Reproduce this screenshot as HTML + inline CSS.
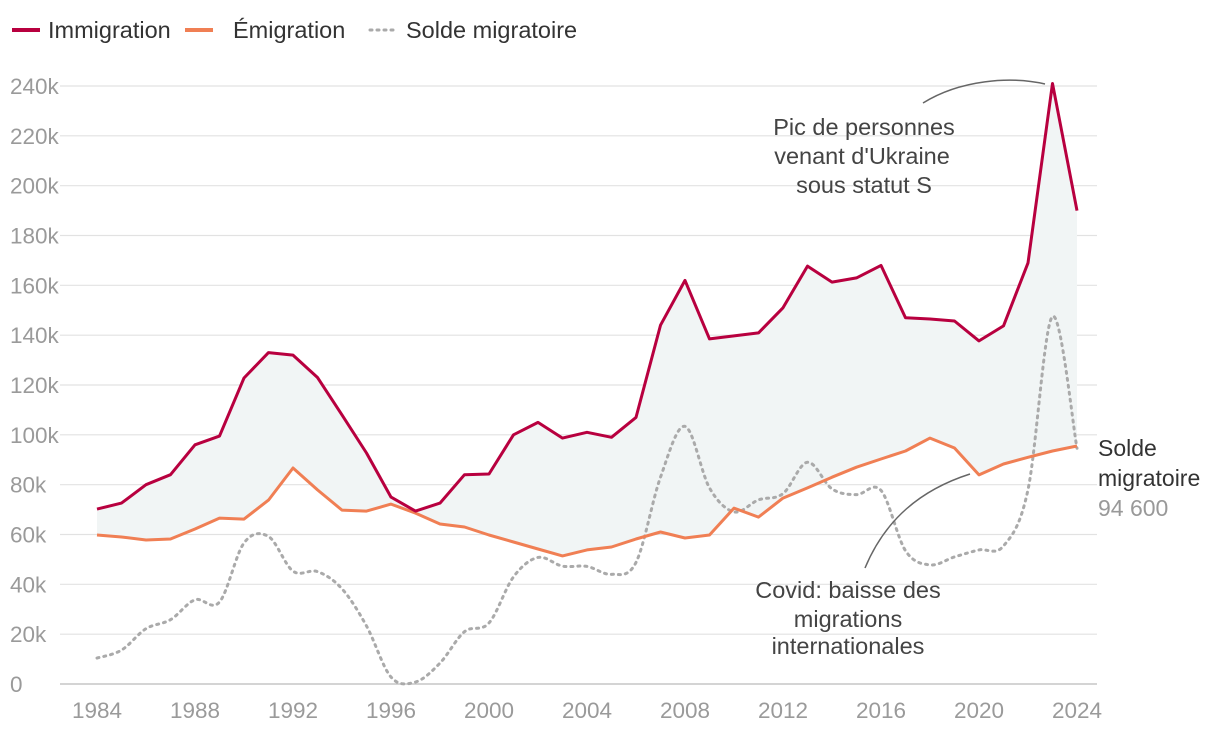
<!DOCTYPE html>
<html><head><meta charset="utf-8">
<style>
body{margin:0;background:#fff;font-family:"Liberation Sans",sans-serif;}
svg text{font-family:"Liberation Sans",sans-serif;}
</style></head>
<body>
<svg width="1220" height="736" viewBox="0 0 1220 736">
<g id="grid"></g>
<g id="yticks"></g>
<g id="xticks"></g>
<path id="area" fill="#f1f5f5"/>
<path id="solde" fill="none" stroke="#aaaaaa" stroke-width="3" stroke-dasharray="2 5" stroke-linecap="round"/>
<path id="emig" fill="none" stroke="#f07f54" stroke-width="3" stroke-linejoin="round"/>
<path id="immig" fill="none" stroke="#b8003f" stroke-width="3" stroke-linejoin="round"/>
<g font-size="23.5" fill="#333">
 <g><line x1="12" y1="30" x2="40" y2="30" stroke="#b8003f" stroke-width="4"/><text x="48" y="38">Immigration</text></g>
 <g><line x1="185" y1="30" x2="213" y2="30" stroke="#f07f54" stroke-width="4"/><text x="233" y="38">Émigration</text></g>
 <g><line x1="370" y1="30" x2="398" y2="30" stroke="#aaa" stroke-width="3" stroke-dasharray="2 5" stroke-linecap="round"/><text x="406" y="38">Solde migratoire</text></g>
</g>
<g font-size="23.5" fill="#444" text-anchor="middle">
 <path d="M923,103 C960,80 1010,76 1045,84" fill="none" stroke="#666" stroke-width="1.5"/>
 <text x="864" y="135">Pic de personnes</text><text x="862" y="164">venant d'Ukraine</text><text x="864" y="193">sous statut S</text>
</g>
<g font-size="23.5" fill="#444" text-anchor="middle">
 <path d="M865,568 C885,520 920,490 970,474" fill="none" stroke="#666" stroke-width="1.5"/>
 <text x="848" y="598">Covid: baisse des</text><text x="848" y="627">migrations</text><text x="848" y="654">internationales</text>
</g>
<g font-size="23">
 <text x="1098" y="456" fill="#333">Solde</text><text x="1098" y="486" fill="#333">migratoire</text><text x="1098" y="516" fill="#999">94 600</text>
</g>
</svg>
<script>
const years=[];for(let y=1984;y<=2024;y++)years.push(y);
const immigration=[70.2,72.6,80,84,96,99.5,122.8,133,132,123,108,92.7,75,69.4,72.6,84,84.3,100,105,98.7,101,99,107,144,162,138.5,139.7,140.9,151,167.7,161.3,163,168,147,146.5,145.7,137.7,143.7,169,241,190];
const emigration=[59.8,59,57.8,58.2,62.2,66.6,66.2,73.8,86.7,77.9,69.8,69.4,72.2,68.6,64.2,63,59.8,57,54.2,51.4,53.8,55,58.2,61,58.6,59.8,70.6,67,74.6,78.7,83,87,90.3,93.5,98.7,94.7,83.9,88.3,91,93.5,95.5];
const solde=[10.4,13.6,22.2,25.8,33.8,32.9,56.6,59.2,45.3,45.1,38.2,23.3,2.8,0.8,8.4,21,24.5,43,50.8,47.3,47.2,44,48.8,83,103.4,78.7,69.1,73.9,76.4,89,78.3,76,77.7,53.5,47.8,51,53.8,55.4,78,147.5,94.6];
const yTicks=[0,20,40,60,80,100,120,140,160,180,200,220,240];
const xTicks=[1984,1988,1992,1996,2000,2004,2008,2012,2016,2020,2024];
const X=y=>97+(y-1984)*24.5, Y=v=>684-v*598/240;
const NS="http://www.w3.org/2000/svg";
const grid=document.getElementById('grid'),yt=document.getElementById('yticks'),xt=document.getElementById('xticks');
yTicks.forEach(v=>{
 const l=document.createElementNS(NS,'line');
 
 
 l.setAttribute('x1',60);l.setAttribute('x2',1097);l.setAttribute('y1',Y(v));l.setAttribute('y2',Y(v));
 l.setAttribute('stroke',v===0?'#bbb':'#e2e2e2');l.setAttribute('stroke-width',1.2);grid.appendChild(l);
 const t=document.createElementNS(NS,'text');
 
 
 t.setAttribute('x',10);t.setAttribute('y',Y(v)+8);t.setAttribute('font-size',22.5);t.setAttribute('fill','#9a9a9a');
 t.textContent=v===0?'0':v+'k';yt.appendChild(t);
});
xTicks.forEach(y=>{
 const t=document.createElementNS(NS,'text');
 
 
 t.setAttribute('x',X(y));t.setAttribute('y',718);t.setAttribute('font-size',22.5);t.setAttribute('fill','#9a9a9a');t.setAttribute('text-anchor','middle');
 t.textContent=y;xt.appendChild(t);
});
const pts=a=>a.map((v,i)=>[X(years[i]),Y(v)]);
const lin=p=>p.map((q,i)=>(i?'L':'M')+q[0].toFixed(1)+','+q[1].toFixed(1)).join('');
function smooth(p){let d='M'+p[0][0]+','+p[0][1];
 for(let i=0;i<p.length-1;i++){const p0=p[i-1]||p[i],p1=p[i],p2=p[i+1],p3=p[i+2]||p2;
  d+='C'+(p1[0]+(p2[0]-p0[0])/6)+','+(p1[1]+(p2[1]-p0[1])/6)+' '+(p2[0]-(p3[0]-p1[0])/6)+','+(p2[1]-(p3[1]-p1[1])/6)+' '+p2[0]+','+p2[1];}
 return d;}
const pi=pts(immigration),pe=pts(emigration);
document.getElementById('immig').setAttribute('d',lin(pi));
document.getElementById('emig').setAttribute('d',lin(pe));
document.getElementById('area').setAttribute('d',lin(pi)+lin(pe.slice().reverse()).replace('M','L')+'Z');
document.getElementById('solde').setAttribute('d',smooth(pts(solde)));
</script>
</body></html>
